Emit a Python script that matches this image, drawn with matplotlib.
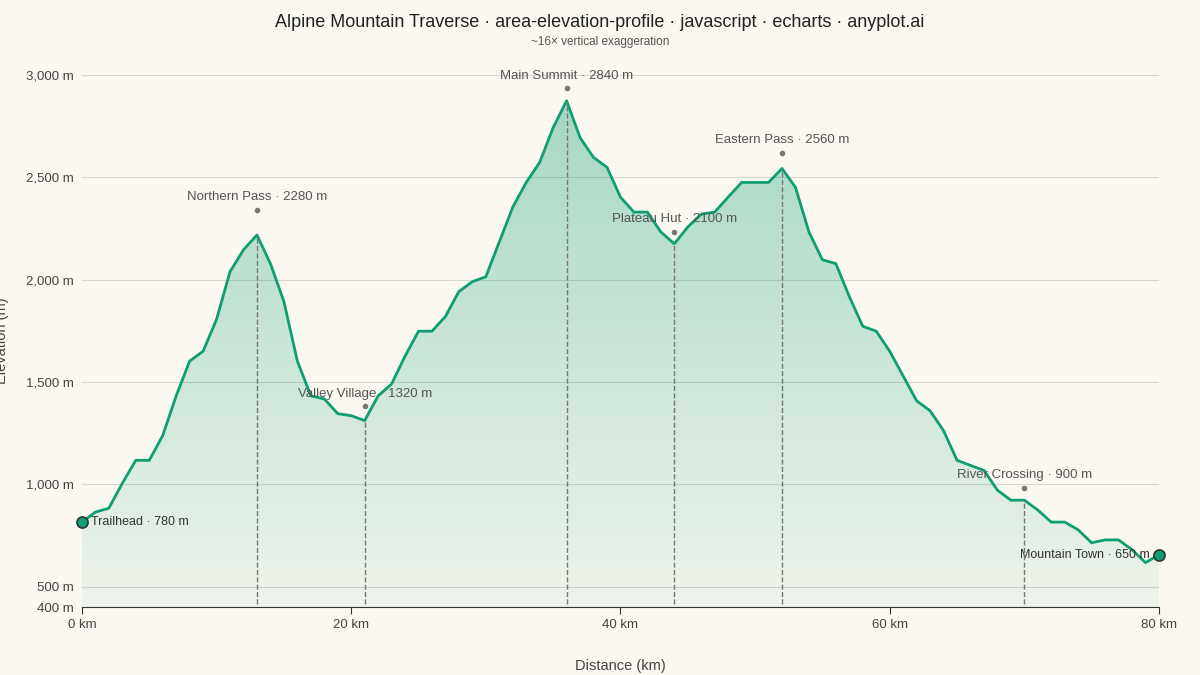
import matplotlib
matplotlib.use("Agg")
import matplotlib.pyplot as plt
import numpy as np
from matplotlib.patches import Polygon
from matplotlib.colors import LinearSegmentedColormap

plt.rcParams['font.family'] = ['Liberation Sans', 'DejaVu Sans']

distance_km = list(range(0, 81))
elevation_m = [815, 864, 883, 1005, 1117, 1117, 1238, 1432, 1602, 1650, 1806, 2039, 2146, 2218, 2078,
               1893, 1602, 1432, 1417, 1345, 1335, 1311, 1432, 1490, 1626, 1748, 1748, 1820, 1942, 1990,
               2014, 2184, 2354, 2475, 2573, 2743, 2874, 2694, 2597, 2549, 2403, 2330, 2330, 2233, 2175,
               2257, 2320, 2330, 2403, 2475, 2475, 2475, 2543, 2451, 2233, 2097, 2078, 1917, 1772, 1748,
               1650, 1529, 1408, 1359, 1262, 1117, 1092, 1068, 971, 922, 922, 874, 815, 815, 777, 714,
               728, 728, 680, 617, 655]
landmark_names = ["Northern Pass", "Valley Village", "Main Summit", "Plateau Hut", "Eastern Pass", "River Crossing"]
landmark_km = [13, 21, 36, 44, 52, 70]
landmark_elev = [2280, 1320, 2840, 2100, 2560, 900]
y_ticks = [400, 500, 1000, 1500, 2000, 2500, 3000]
x_ticks = [0, 20, 40, 60, 80]

n = min(len(distance_km), len(elevation_m))
x = np.array(distance_km[:n], float)
y = np.array(elevation_m[:n], float)

bg = "#FAF8F1"
green = "#0E9E73"
fig = plt.figure(figsize=(12, 6.75), dpi=100, facecolor=bg)
ax = fig.add_axes([0.0683, 0.1007, 0.8975, 0.7882])
ax.set_facecolor(bg)
ax.set_xlim(0, 80)
ax.set_ylim(400, 3000)

grad = np.linspace(0, 1, 256).reshape(-1, 1)
cmap = LinearSegmentedColormap.from_list("g", [(0.055, 0.62, 0.45, 0.05), (0.055, 0.62, 0.45, 0.36)])
im = ax.imshow(grad, extent=[0, 80, 400, 2900], origin="lower", aspect="auto", cmap=cmap, zorder=1)
poly = Polygon(np.column_stack([np.r_[x, x[-1], x[0]], np.r_[y, 400, 400]]), closed=True,
               facecolor="none", edgecolor="none")
ax.add_patch(poly)
im.set_clip_path(poly)
ax.plot(x, y, color=green, lw=2, zorder=3, solid_joinstyle="round")

for v in y_ticks:
    ax.axhline(v, color="#d8d6d0", lw=0.8, zorder=0)

for name, km, el in zip(landmark_names, landmark_km, landmark_elev):
    cy = np.interp(km, x, y)
    ax.plot([km, km], [400 + 15, cy], ls="--", color="#777", lw=1, zorder=4)
    dy = max(cy, el) + 60
    ax.plot([km], [dy], "o", color="#777", ms=3, zorder=5)
    ax.annotate(f"{name} · {el} m", (km, dy), xytext=(0, 5), textcoords="offset points",
                ha="center", va="bottom", fontsize=9.5, color="#555")

ax.plot([x[0]], [y[0]], "o", ms=8, mfc=green, mec="#333", mew=1.2, zorder=6, clip_on=False)
ax.plot([x[-1]], [y[-1]], "o", ms=8, mfc=green, mec="#333", mew=1.2, zorder=6, clip_on=False)
ax.text(0.7, y[0], "Trailhead · 780 m", fontsize=9, color="#333", va="center")
ax.text(79.3, y[-1], "Mountain Town · 650 m", fontsize=9, color="#333", va="center", ha="right")

for s in ["top", "right", "left"]:
    ax.spines[s].set_visible(False)
ax.spines["bottom"].set_color("#333")
ax.set_yticks(y_ticks)
ax.set_yticklabels([f"{v:,} m" for v in y_ticks], fontsize=9.5, color="#444")
ax.tick_params(axis="y", length=0, pad=6)
ax.set_xticks(x_ticks)
ax.set_xticklabels([f"{v} km" for v in x_ticks], fontsize=9.5, color="#444")
ax.tick_params(axis="x", length=5, color="#333")
ax.set_xlabel("Distance (km)", fontsize=10.5, color="#444", labelpad=20)
ax.set_ylabel("Elevation (m)", fontsize=10.5, color="#444", labelpad=12)

fig.text(0.5, 0.967, "Alpine Mountain Traverse · area-elevation-profile · javascript · echarts · anyplot.ai",
         ha="center", va="center", fontsize=13, color="#222")
fig.text(0.5, 0.938, "~16× vertical exaggeration", ha="center", va="center", fontsize=8.5, color="#555")
fig.savefig("out.png", dpi=100, facecolor=bg)
